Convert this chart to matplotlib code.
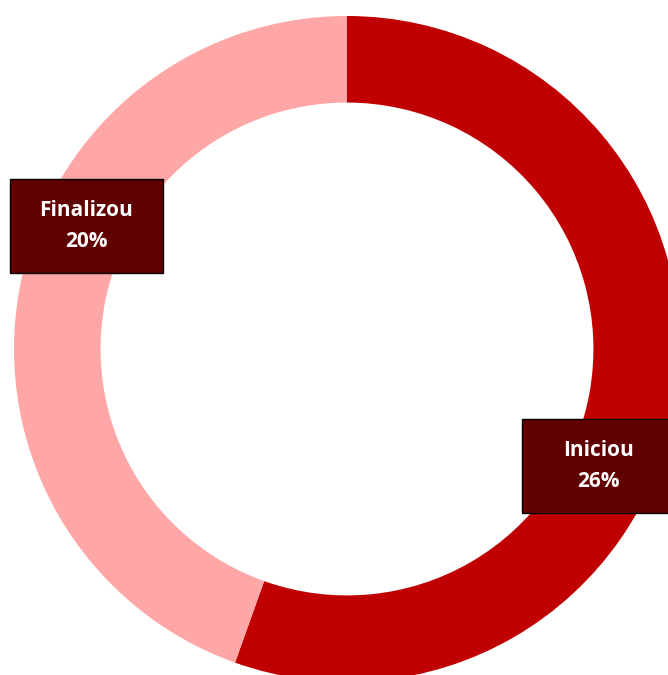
import matplotlib.pyplot as plt
from matplotlib.patches import Rectangle

# donut: share of students who started / finished
categories = ['Iniciou', 'Finalizou']
values = [25.51, 20.49]
colors = ['#C00000', '#FFA6A6']

fig = plt.figure(figsize=(6.68, 6.75), dpi=100)
ax = fig.add_axes([0, 0, 1, 1])

ax.pie(values, colors=colors, startangle=90, counterclock=False, radius=1.0,
       wedgeprops=dict(width=0.26, linewidth=0))

# chart is cropped on the right and bottom in the original
px = 333.0
cx, cy = 347.0, 349.0
ax.set_xlim(-cx / px, (668 - cx) / px)
ax.set_ylim(-(675 - cy) / px, cy / px)
ax.set_aspect('equal')
ax.axis('off')

# label boxes (centre in pixel space of the original)
label_pos = {'Iniciou': (598.5, 466.0), 'Finalizou': (86.5, 226.0)}
box_w, box_h = 153 / px, 94 / px

for cat, val in zip(categories, values):
    x = (label_pos[cat][0] - cx) / px
    y = (cy - label_pos[cat][1]) / px
    ax.add_patch(Rectangle((x - box_w / 2, y - box_h / 2), box_w, box_h,
                           facecolor='#600000', edgecolor='black', linewidth=1, zorder=3))
    ax.text(x, y, f'{cat}\n{val:.0f}%', ha='center', va='center', color='white',
            fontsize=15, fontweight='bold', family='Open Sans', linespacing=1.6, zorder=4)

fig.savefig('out.png', dpi=100)
